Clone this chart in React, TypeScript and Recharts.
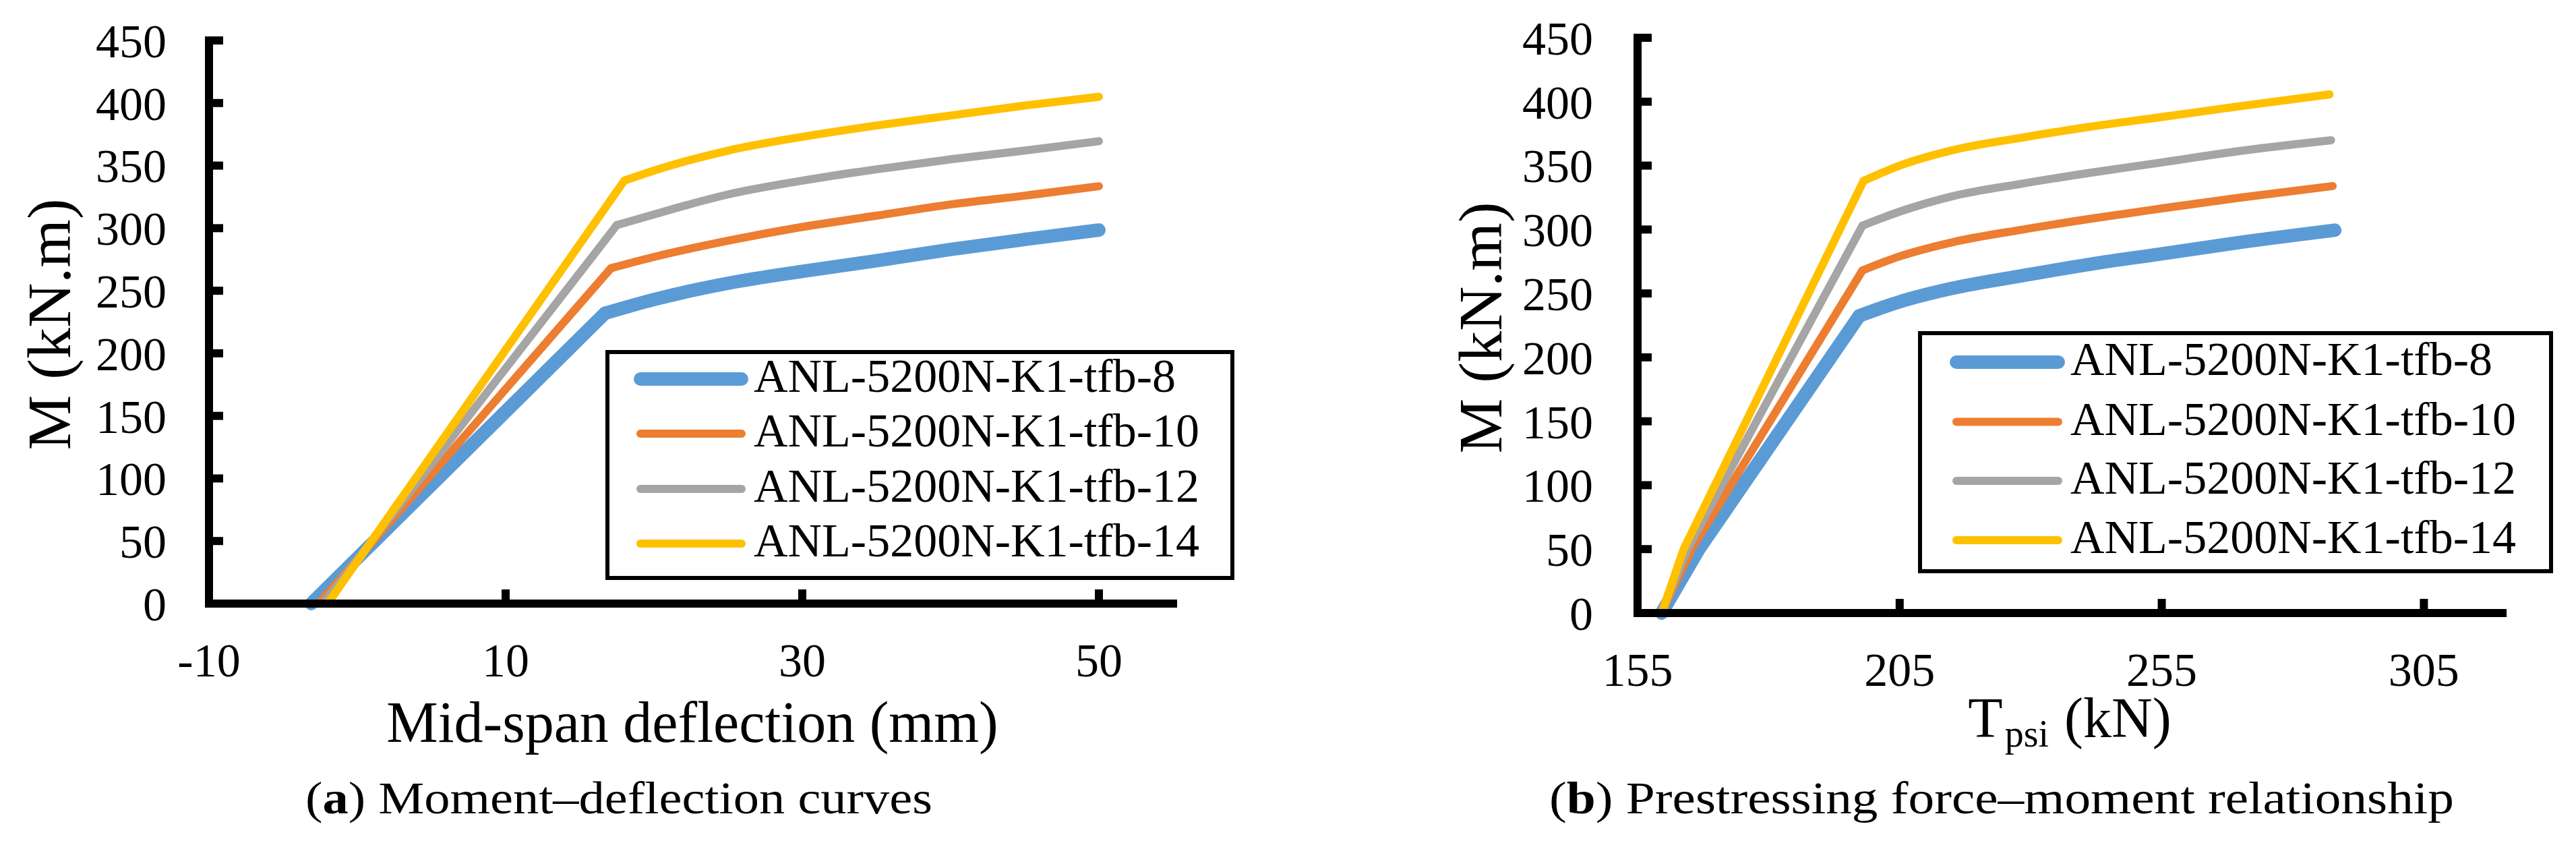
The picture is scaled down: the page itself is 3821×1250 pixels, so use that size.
import React from 'react';
import { LineChart, Line, XAxis, YAxis, Legend } from 'recharts';

const SERIES_NAMES = ['ANL-5200N-K1-tfb-8', 'ANL-5200N-K1-tfb-10', 'ANL-5200N-K1-tfb-12', 'ANL-5200N-K1-tfb-14'];
const SERIES_COLORS = ['#5B9BD5', '#ED7D31', '#A5A5A5', '#FFC000'];
const SERIES_WIDTHS = [20, 12, 12, 12];

// (a) Moment–deflection: mid-span deflection (mm) vs M (kN.m); index 1 = yield point
const deflTfb8 = [-3.1, 16.7, 20, 25, 30, 35, 40, 45, 50];
const momentATfb8 = [0, 232, 243, 256, 265.5, 274, 283, 291, 298.5];
const deflTfb10 = [-2.6, 17.1, 20, 25, 30, 35, 40, 45, 50];
const momentATfb10 = [0, 268, 277, 290, 301, 310, 319, 326, 333.5];
const deflTfb12 = [-2.3, 17.5, 20, 25, 30, 35, 40, 45, 50];
const momentATfb12 = [0, 302.5, 311, 327, 338, 347, 355, 362, 369.5];
const deflTfb14 = [-2.0, 18, 20, 25, 30, 35, 40, 45, 50];
const momentATfb14 = [0, 338, 346, 362, 373, 382, 390, 398, 405];

// (b) Prestressing force Tpsi (kN) vs M (kN.m); index 2 = yield point
const forceTfb8 = [159.6, 166.7, 197.3, 205, 215, 228.5, 241.5, 255, 270, 288];
const momentBTfb8 = [0, 50, 232.5, 243.5, 254, 264, 273, 281, 290, 299.5];
const forceTfb10 = [159.6, 165.3, 197.9, 205, 215, 228.5, 241.5, 255, 270, 287.6];
const momentBTfb10 = [0, 50, 268, 279, 290, 300, 308.5, 316.5, 325, 334];
const forceTfb12 = [159.6, 164.5, 197.9, 205, 215, 228.5, 241.5, 255, 270, 287.3];
const momentBTfb12 = [0, 50, 303, 314, 326, 336, 344.5, 352.5, 361.5, 369.8];
const forceTfb14 = [159.6, 163.8, 198.1, 205, 215, 228.5, 241.5, 255, 270, 287];
const momentBTfb14 = [0, 50, 338, 350, 362, 372, 380.5, 388, 396.5, 405.7];

const momentTicks = [0, 50, 100, 150, 200, 250, 300, 350, 400, 450];
const deflTicks = [-10, 10, 30, 50];
const forceTicks = [155, 205, 255, 305];

const YIELD_IDX_A = 1;
const YIELD_IDX_B = 2;

const FONT = '"Liberation Serif", "Times New Roman", serif';

const zip = (xs: number[], ys: number[]) => xs.map((x, i) => ({ x, m: ys[i] }));

const seriesA = [
  zip(deflTfb8, momentATfb8),
  zip(deflTfb10, momentATfb10),
  zip(deflTfb12, momentATfb12),
  zip(deflTfb14, momentATfb14),
];
const seriesB = [
  zip(forceTfb8, momentBTfb8),
  zip(forceTfb10, momentBTfb10),
  zip(forceTfb12, momentBTfb12),
  zip(forceTfb14, momentBTfb14),
];

const makeLegend = (w: number, h: number, rows: number[], lx0: number, lx1: number, tx: number) => (props: any) => {
  const seen = new Set<string>();
  const items = [...(props.payload || [])]
    .filter((p: any) => p.type !== 'none' && SERIES_NAMES.includes(p.value))
    .filter((p: any) => (seen.has(p.value) ? false : (seen.add(p.value), true)))
    .sort((a: any, b: any) => SERIES_NAMES.indexOf(a.value) - SERIES_NAMES.indexOf(b.value));
  return (
    <svg width={w} height={h} style={{ display: 'block', overflow: 'visible' }}>
      <rect x={3} y={3} width={w - 6} height={h - 6} fill="#fff" stroke="#000" strokeWidth={6} />
      {items.map((p: any, i: number) => {
        const idx = SERIES_NAMES.indexOf(p.value);
        return (
          <g key={p.value}>
            <line x1={lx0} x2={lx1} y1={rows[i]} y2={rows[i]} stroke={SERIES_COLORS[idx]} strokeWidth={SERIES_WIDTHS[idx]} strokeLinecap="round" />
            <text x={tx} y={rows[i] + 19} fontFamily={FONT} fontSize={70} fill="#000">{p.value}</text>
          </g>
        );
      })}
    </svg>
  );
};

const tickStyle = { fontSize: 70, fontFamily: FONT, fill: '#000' };
const axisLineStyle = { stroke: '#000', strokeWidth: 12, strokeLinecap: 'square' as const };
const tickLineStyle = { stroke: '#000', strokeWidth: 12 };

const renderSeries = (series: { x: number; m: number }[][], yieldIdx: number, prefix: string) =>
  series.flatMap((d, i) => [
    <Line
      key={`${prefix}-pre-${i}`}
      name={SERIES_NAMES[i]}
      data={d.slice(0, yieldIdx + 1)}
      dataKey="m"
      type="linear"
      stroke={SERIES_COLORS[i]}
      strokeWidth={SERIES_WIDTHS[i]}
      strokeLinecap="round"
      strokeLinejoin="round"
      dot={false}
      activeDot={false}
      isAnimationActive={false}
    />,
    <Line
      key={`${prefix}-post-${i}`}
      name={`${SERIES_NAMES[i]} (post-yield)`}
      legendType="none"
      data={d.slice(yieldIdx)}
      dataKey="m"
      type="monotone"
      stroke={SERIES_COLORS[i]}
      strokeWidth={SERIES_WIDTHS[i]}
      strokeLinecap="round"
      strokeLinejoin="round"
      dot={false}
      activeDot={false}
      isAnimationActive={false}
    />,
  ]);

export default function App() {
  return (
    <div style={{ position: 'absolute', left: 0, top: 0, width: 3821, height: 1250, background: '#fff', overflow: 'hidden' }}>
      <div style={{ position: 'absolute', left: 0, top: 0 }}>
        <LineChart width={1900} height={1250} margin={{ top: 60, right: 160, bottom: 255, left: 110 }}>
          <XAxis
            type="number"
            dataKey="x"
            domain={[-10, 55]}
            ticks={deflTicks}
            interval={0}
            allowDataOverflow
            height={100}
            tickSize={-21}
            tickMargin={79}
            tick={tickStyle}
            axisLine={axisLineStyle}
            tickLine={tickLineStyle}
          />
          <YAxis
            type="number"
            domain={[0, 450]}
            ticks={momentTicks}
            interval={0}
            width={200}
            tickSize={-21}
            tickMargin={84}
            tick={tickStyle}
            axisLine={axisLineStyle}
            tickLine={tickLineStyle}
          />
          {renderSeries(seriesA, YIELD_IDX_A, 'a')}
          <Legend
            layout="horizontal"
            verticalAlign="middle"
            align="center"
            wrapperStyle={{ left: 898, top: 519, width: 933, height: 341 }}
            content={makeLegend(933, 341, [43, 124, 206, 287], 52, 202, 220)}
          />
        </LineChart>
      </div>
      <div style={{ position: 'absolute', left: 1910, top: 0 }}>
        <LineChart width={1911} height={1250} margin={{ top: 56, right: 109, bottom: 241, left: 319 }}>
          <XAxis
            type="number"
            dataKey="x"
            domain={[155, 320]}
            ticks={forceTicks}
            interval={0}
            allowDataOverflow
            height={100}
            tickSize={-21}
            tickMargin={79}
            tick={tickStyle}
            axisLine={axisLineStyle}
            tickLine={tickLineStyle}
          />
          <YAxis
            type="number"
            domain={[0, 450]}
            ticks={momentTicks}
            interval={0}
            width={200}
            tickSize={-21}
            tickMargin={87}
            tick={tickStyle}
            axisLine={axisLineStyle}
            tickLine={tickLineStyle}
          />
          {renderSeries(seriesB, YIELD_IDX_B, 'b')}
          <Legend
            layout="horizontal"
            verticalAlign="middle"
            align="center"
            wrapperStyle={{ left: 935, top: 491, width: 942, height: 359 }}
            content={makeLegend(942, 359, [46, 134.5, 222, 310], 57, 208, 226)}
          />
        </LineChart>
      </div>
      <svg width={3821} height={1250} style={{ position: 'absolute', left: 0, top: 0, pointerEvents: 'none' }}>
        <g fontFamily={FONT} fill="#000">
          <text transform="translate(104,481) rotate(-90)" textAnchor="middle" fontSize={92}>M (kN.m)</text>
          <text transform="translate(2227,486) rotate(-90)" textAnchor="middle" fontSize={92}>M (kN.m)</text>
          <text x={1027} y={1100} textAnchor="middle" fontSize={86}>Mid-span deflection (mm)</text>
          <text x={3070} y={1093} textAnchor="middle" fontSize={84}>
            T<tspan fontSize={56} dx={3} dy={14}>psi</tspan><tspan dx={2} dy={-14}> (kN)</tspan>
          </text>
          <text x={918} y={1206} textAnchor="middle" fontSize={67} textLength={930} lengthAdjust="spacingAndGlyphs">
            (<tspan fontWeight="bold">a</tspan>) Moment–deflection curves
          </text>
          <text x={2969} y={1206} textAnchor="middle" fontSize={67} textLength={1342} lengthAdjust="spacingAndGlyphs">
            (<tspan fontWeight="bold">b</tspan>) Prestressing force–moment relationship
          </text>
        </g>
      </svg>
    </div>
  );
}
